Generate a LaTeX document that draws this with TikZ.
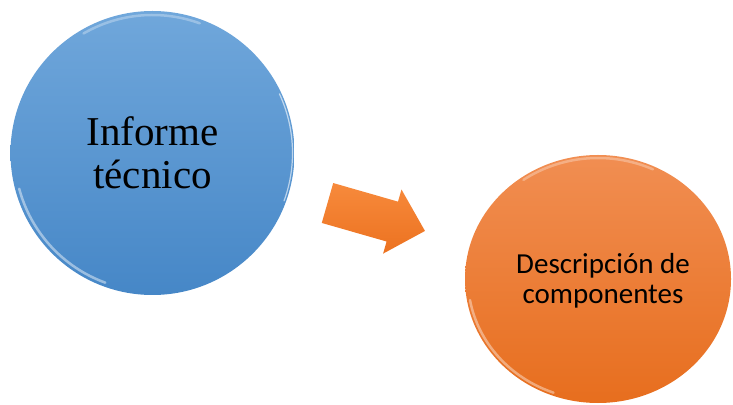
\documentclass[tikz,border=0pt]{standalone}
\usepackage{fontspec}
\newfontfamily\calibri{Carlito}
\newfontfamily\garamond{Liberation Serif}
\usetikzlibrary{shapes.geometric,positioning}
\definecolor{azultop}{RGB}{112,167,219}
\definecolor{azulbot}{RGB}{70,135,199}
\definecolor{narantop}{RGB}{241,142,82}
\definecolor{naranbot}{RGB}{231,110,30}
\definecolor{flechatop}{RGB}{247,138,60}
\definecolor{flechabot}{RGB}{236,114,32}

\begin{document}
\begin{tikzpicture}[x=1pt, y=1pt,
  burbuja/.style={inner sep=0pt, draw=none},
  brillo/.style={line width=2.5pt, line cap=round, white, opacity=0.45}]
\useasboundingbox (0,0) rectangle (733,404);
\node[burbuja, circle, minimum size=284pt, top color=azultop, bottom color=azulbot, align=center, font=\garamond\fontsize{41}{43}\selectfont] (informe) at (152.5,251) {Informe\\técnico};
\node[burbuja, ellipse, minimum width=266pt, minimum height=248pt, top color=narantop, bottom color=naranbot] (componentes) at (598,125) {};
\node[align=center, inner sep=0pt, font=\calibri\fontsize{29}{30}\selectfont] (componentes-texto) at ([xshift=5pt, yshift=-2pt]componentes.center) {Descripción de\\componentes};
% flecha de bloque
\coordinate (flecha) at (327.5,201);
\shade[top color=flechatop, bottom color=flechabot, shift={(flecha)}, rotate=-16]
  (0,-20.75) -- (67.4,-20.75) -- (67.4,-33.35) -- (101.4,0) -- (67.4,33.35) -- (67.4,20.75) -- (0,20.75) -- cycle;
% brillos
\draw[brillo] ([shift={(195:138)}]informe.center) arc[start angle=195, end angle=250, radius=138];
\draw[brillo, opacity=0.3] ([shift={(70:138)}]informe.center) arc[start angle=70, end angle=120, radius=138];
\draw[brillo, line width=1.2pt, opacity=0.6] ([shift={(-20:140)}]informe.center) arc[start angle=-20, end angle=25, radius=140];
\draw[brillo, opacity=0.4] ([shift={(190:130 and 121)}]componentes.center) arc[start angle=190, end angle=250, x radius=130, y radius=121];
\draw[brillo, opacity=0.3] ([shift={(65:130 and 121)}]componentes.center) arc[start angle=65, end angle=125, x radius=130, y radius=121];
\end{tikzpicture}
\end{document}
